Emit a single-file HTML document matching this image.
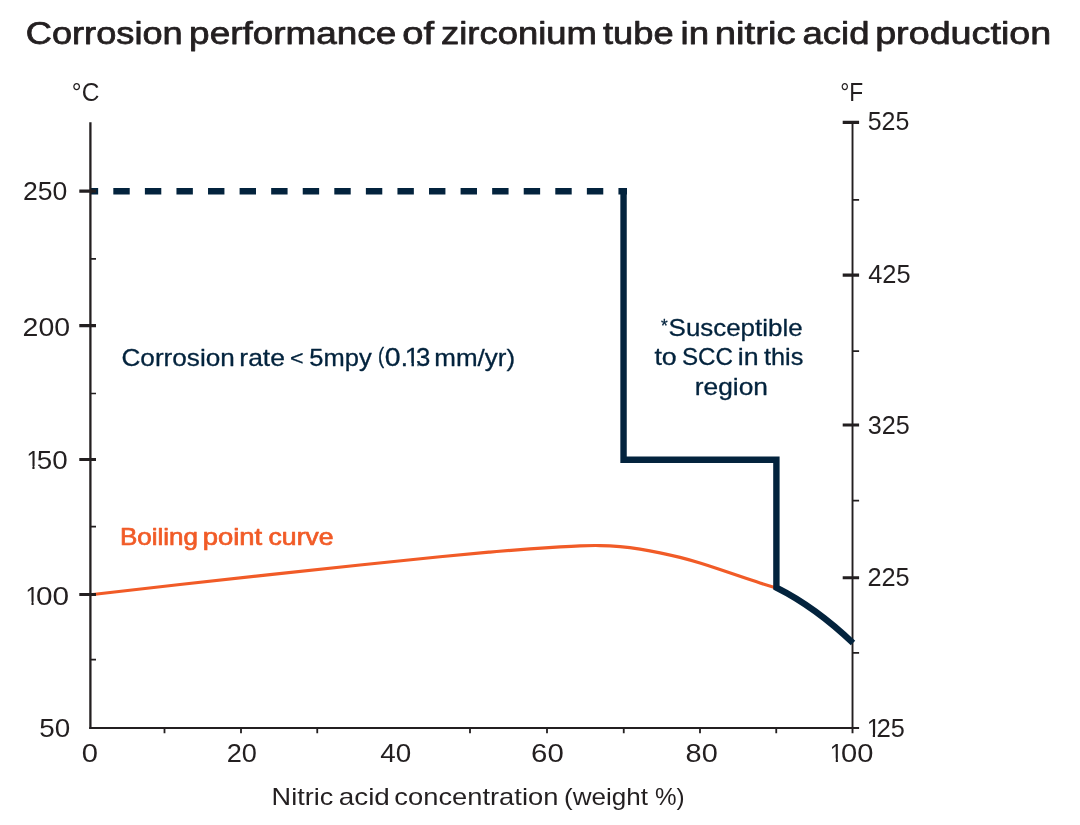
<!DOCTYPE html>
<html lang="en">
<head>
<meta charset="utf-8">
<title>Corrosion performance of zirconium tube in nitric acid production</title>
<style>
html, body { margin: 0; padding: 0; background: #ffffff; }
body { width: 1080px; height: 825px; overflow: hidden; }
svg { display: block; }
svg text { font-family: "Liberation Sans", sans-serif; white-space: pre; }
</style>
</head>
<body>
<svg width="1080" height="825" viewBox="0 0 1080 825" role="img" aria-label="Corrosion performance of zirconium tube in nitric acid production">
<rect width="1080" height="825" fill="#ffffff"/>
<g stroke="#231f20" fill="none"><path d="M852.52,122.40 V733.3" stroke-width="1.90"/><path d="M842.7,122.40 H859.1 M842.7,275.10 H859.1 M842.7,425.00 H859.1 M842.7,577.70 H859.1" stroke-width="3.1"/><path d="M852.52,199.80 H859.1 M852.52,351.20 H859.1 M852.52,500.70 H859.1 M852.52,652.80 H859.1" stroke-width="1.7"/></g>
<path d="M90.50,594.77 C120.33,591.26 150.17,587.85 180.00,584.51 C210.00,581.16 240.00,577.88 270.00,574.64 C300.00,571.40 330.00,568.21 360.00,565.03 C386.67,562.20 413.33,559.39 440.00,556.76 C456.67,555.12 473.33,553.55 490.00,552.09 C503.33,550.93 516.67,549.84 530.00,548.87 C540.00,548.13 550.00,547.47 560.00,546.89 C566.67,546.50 573.33,546.13 580.00,545.86 C586.67,545.59 593.33,545.43 600.00,545.55 C606.67,545.67 613.33,546.06 620.00,546.67 C626.67,547.28 633.33,548.12 640.00,549.16 C646.67,550.19 653.33,551.42 660.00,552.81 C666.67,554.20 673.33,555.74 680.00,557.42 C686.67,559.11 693.33,560.97 700.00,563.01 C706.67,565.05 713.33,567.24 720.00,569.49 C726.67,571.75 733.33,574.06 740.00,576.35 C746.67,578.63 753.33,580.89 760.00,583.03 C765.43,584.77 770.87,586.44 776.30,587.97" fill="none" stroke="#f15b27" stroke-width="3.2"/>
<path d="M90.75,191.2 H627" fill="none" stroke="#03233d" stroke-width="6.5" stroke-dasharray="16.4 15.17" stroke-dashoffset="9"/>
<path d="M623.55,188 V459.7 H776.4 V587.6 Q815.2,607 853,643" fill="none" stroke="#03233d" stroke-width="6.4" stroke-linejoin="miter"/>
<g stroke="#231f20" fill="none">
<path d="M90.40,122.30 V729.10" stroke-width="2.30"/>
<path d="M89.25,728.05 H859.1" stroke-width="2.10"/>
<path d="M79.3,191.10 H96 M79.3,325.60 H96 M79.3,459.50 H96 M79.3,594.50 H96" stroke-width="3.1"/>
<path d="M90.40,258.90 H96 M90.40,393.50 H96 M90.40,526.70 H96 M90.40,659.60 H96" stroke-width="1.7"/>
<path d="M164.50,728.05 V733.3 M241.00,728.05 V733.3 M317.25,728.05 V733.3 M470.00,728.05 V733.3 M547.00,728.05 V733.3 M623.75,728.05 V733.3 M700.00,728.05 V733.3 M776.25,728.05 V733.3" stroke-width="1.8"/>
</g>
<text y="43.90" font-size="30.8" fill="#231f20" stroke="#231f20" stroke-width="0.75" stroke-linejoin="round"><tspan x="25.73" textLength="157.05" lengthAdjust="spacingAndGlyphs">Corrosion</tspan> <tspan x="189.10" y="43.90" textLength="207.27" lengthAdjust="spacingAndGlyphs">performance</tspan> <tspan x="402.26" y="43.90" textLength="31.85" lengthAdjust="spacingAndGlyphs">of</tspan> <tspan x="441.02" y="43.90" textLength="155.79" lengthAdjust="spacingAndGlyphs">zirconium</tspan> <tspan x="603.00" y="43.90" textLength="70.62" lengthAdjust="spacingAndGlyphs">tube</tspan> <tspan x="680.52" y="43.90" textLength="28.55" lengthAdjust="spacingAndGlyphs">in</tspan> <tspan x="714.82" y="43.90" textLength="80.84" lengthAdjust="spacingAndGlyphs">nitric</tspan> <tspan x="802.51" y="43.90" textLength="66.96" lengthAdjust="spacingAndGlyphs">acid</tspan> <tspan x="875.16" y="43.90" textLength="176.07" lengthAdjust="spacingAndGlyphs">production</tspan></text>
<text y="101.20" font-size="25.6" fill="#231f20"><tspan x="71.87" textLength="27.46" lengthAdjust="spacingAndGlyphs">°C</tspan></text>
<text y="101.30" font-size="25.6" fill="#231f20"><tspan x="840.26" textLength="23.04" lengthAdjust="spacingAndGlyphs">°F</tspan></text>
<text y="200.00" font-size="25.7" fill="#231f20"><tspan x="23.01" textLength="44.34" lengthAdjust="spacingAndGlyphs">250</tspan></text>
<text y="335.60" font-size="25.7" fill="#231f20"><tspan x="22.61" textLength="47.52" lengthAdjust="spacingAndGlyphs">200</tspan></text>
<text y="468.80" font-size="25.7" fill="#231f20"><tspan x="26.41" textLength="13.24" lengthAdjust="spacingAndGlyphs">1</tspan><tspan x="36.82" y="468.80" textLength="30.90" lengthAdjust="spacingAndGlyphs">50</tspan></text>
<text y="604.50" font-size="25.7" fill="#231f20"><tspan x="25.51" textLength="13.24" lengthAdjust="spacingAndGlyphs">1</tspan><tspan x="35.94" y="604.50" textLength="33.11" lengthAdjust="spacingAndGlyphs">00</tspan></text>
<text y="736.50" font-size="25.7" fill="#231f20"><tspan x="39.32" textLength="30.95" lengthAdjust="spacingAndGlyphs">50</tspan></text>
<text y="761.50" font-size="25.7" fill="#231f20"><tspan x="81.77" textLength="16.22" lengthAdjust="spacingAndGlyphs">0</tspan></text>
<text y="761.50" font-size="25.7" fill="#231f20"><tspan x="226.68" textLength="30.21" lengthAdjust="spacingAndGlyphs">20</tspan></text>
<text y="761.50" font-size="25.7" fill="#231f20"><tspan x="380.21" textLength="30.96" lengthAdjust="spacingAndGlyphs">40</tspan></text>
<text y="761.50" font-size="25.7" fill="#231f20"><tspan x="531.07" textLength="32.66" lengthAdjust="spacingAndGlyphs">60</tspan></text>
<text y="761.50" font-size="25.7" fill="#231f20"><tspan x="685.60" textLength="32.12" lengthAdjust="spacingAndGlyphs">80</tspan></text>
<text y="761.50" font-size="25.7" fill="#231f20"><tspan x="829.81" textLength="13.24" lengthAdjust="spacingAndGlyphs">1</tspan><tspan x="840.97" y="761.50" textLength="32.35" lengthAdjust="spacingAndGlyphs">00</tspan></text>
<text y="130.20" font-size="25.7" fill="#231f20"><tspan x="867.73" textLength="41.65" lengthAdjust="spacingAndGlyphs">525</tspan></text>
<text y="283.30" font-size="25.7" fill="#231f20"><tspan x="868.21" textLength="42.39" lengthAdjust="spacingAndGlyphs">425</tspan></text>
<text y="433.50" font-size="25.7" fill="#231f20"><tspan x="867.72" textLength="41.97" lengthAdjust="spacingAndGlyphs">325</tspan></text>
<text y="586.20" font-size="25.7" fill="#231f20"><tspan x="867.47" textLength="42.22" lengthAdjust="spacingAndGlyphs">225</tspan></text>
<text y="736.50" font-size="25.7" fill="#231f20"><tspan x="866.63" textLength="13.70" lengthAdjust="spacingAndGlyphs">1</tspan><tspan x="876.67" y="736.50" textLength="28.14" lengthAdjust="spacingAndGlyphs">25</tspan></text>
<text y="804.70" font-size="23.8" fill="#231f20"><tspan x="271.62" textLength="61.68" lengthAdjust="spacingAndGlyphs">Nitric</tspan> <tspan x="338.73" y="804.70" textLength="51.11" lengthAdjust="spacingAndGlyphs">acid</tspan> <tspan x="394.35" y="804.70" textLength="164.01" lengthAdjust="spacingAndGlyphs">concentration</tspan> <tspan x="564.06" y="804.70" textLength="83.98" lengthAdjust="spacingAndGlyphs">(weight</tspan> <tspan x="655.04" y="804.70" textLength="29.63" lengthAdjust="spacingAndGlyphs">%)</tspan></text>
<text y="365.90" font-size="23.8" fill="#03233d" stroke="#03233d" stroke-width="0.3" stroke-linejoin="round"><tspan x="121.50" textLength="113.26" lengthAdjust="spacingAndGlyphs">Corrosion</tspan> <tspan x="239.33" y="365.90" textLength="45.60" lengthAdjust="spacingAndGlyphs">rate</tspan> <tspan x="290.01" font-size="19.5" y="365.20" textLength="13.55" lengthAdjust="spacingAndGlyphs">&lt;</tspan> <tspan x="309.30" y="365.90" textLength="62.35" lengthAdjust="spacingAndGlyphs">5mpy</tspan> <tspan x="377.98" font-size="22.8" y="363.00" textLength="6.20" lengthAdjust="spacingAndGlyphs">(</tspan><tspan x="384.75" font-size="25.0" y="365.90" textLength="23.76" lengthAdjust="spacingAndGlyphs">0.</tspan><tspan x="404.83" font-size="25.0" y="365.90" textLength="14.84" lengthAdjust="spacingAndGlyphs">1</tspan><tspan x="415.93" font-size="25.0" y="365.90" textLength="14.30" lengthAdjust="spacingAndGlyphs">3</tspan> <tspan x="434.26" y="365.90" textLength="80.82" lengthAdjust="spacingAndGlyphs">mm/yr)</tspan></text>
<text y="335.60" font-size="23.8" fill="#03233d" stroke="#03233d" stroke-width="0.3" stroke-linejoin="round"><tspan x="661.07" font-size="19.0" y="332.20" textLength="6.77" lengthAdjust="spacingAndGlyphs">*</tspan><tspan x="668.61" y="335.60" textLength="133.94" lengthAdjust="spacingAndGlyphs">Susceptible</tspan></text>
<text y="365.00" font-size="23.8" fill="#03233d" stroke="#03233d" stroke-width="0.3" stroke-linejoin="round"><tspan x="654.42" textLength="22.35" lengthAdjust="spacingAndGlyphs">to</tspan> <tspan x="681.99" y="365.00" textLength="50.98" lengthAdjust="spacingAndGlyphs">SCC</tspan> <tspan x="737.81" y="365.00" textLength="20.83" lengthAdjust="spacingAndGlyphs">in</tspan> <tspan x="763.93" y="365.00" textLength="39.41" lengthAdjust="spacingAndGlyphs">this</tspan></text>
<text y="394.50" font-size="23.8" fill="#03233d" stroke="#03233d" stroke-width="0.3" stroke-linejoin="round"><tspan x="694.74" textLength="73.22" lengthAdjust="spacingAndGlyphs">region</tspan></text>
<text y="545.30" font-size="23.4" fill="#f15b27" stroke="#f15b27" stroke-width="0.7" stroke-linejoin="round"><tspan x="120.03" textLength="78.02" lengthAdjust="spacingAndGlyphs">Boiling</tspan> <tspan x="202.74" y="545.30" textLength="59.45" lengthAdjust="spacingAndGlyphs">point</tspan> <tspan x="268.55" y="545.30" textLength="65.05" lengthAdjust="spacingAndGlyphs">curve</tspan></text>
<path d="M27.22,465.88H32.38V470.40H27.22Z M34.52,465.88H39.49V470.40H34.52Z M26.32,601.58H31.48V606.10H26.32Z M33.62,601.58H38.59V606.10H33.62Z M830.62,758.58H835.78V763.10H830.62Z M837.92,758.58H842.89V763.10H837.92Z M867.51,733.58H872.80V738.10H867.51Z M875.02,733.58H877.70V738.10H875.02Z M405.87,363.03H411.52V367.50H405.87Z M413.92,363.53H417.50V367.50H413.92Z" fill="#ffffff"/>
</svg>
</body>
</html>
